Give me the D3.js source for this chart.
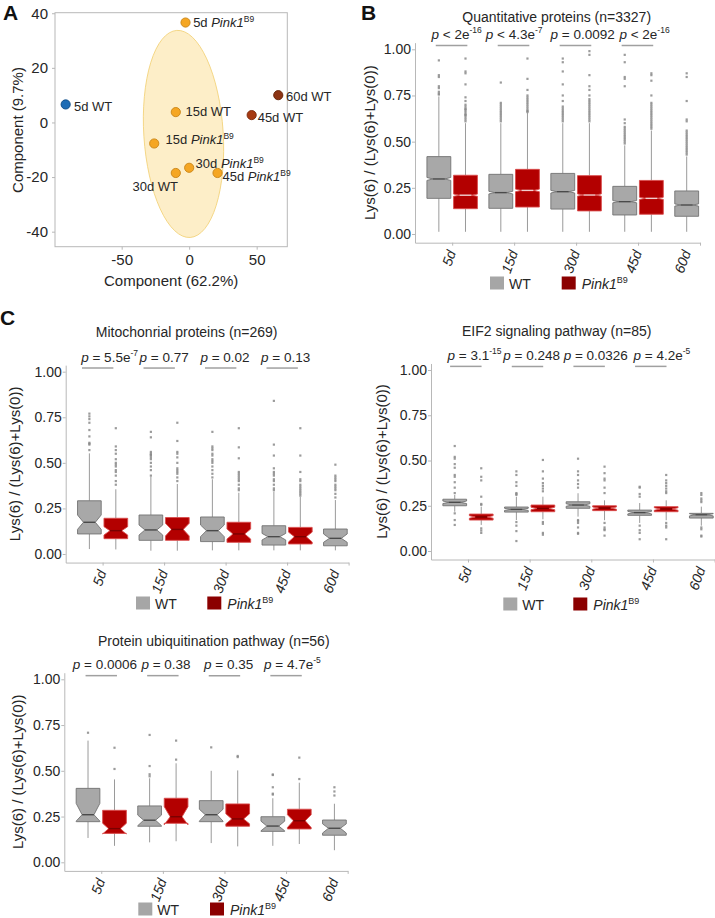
<!DOCTYPE html>
<html><head><meta charset="utf-8">
<script src="https://cdn.jsdelivr.net/npm/d3@7"></script>
<style>body{margin:0;background:#fff}svg{display:block}</style>
</head><body><svg id="c" width="715" height="918"></svg>
<script>
// ---------------- DATA ----------------
const categories = ["5d","15d","30d","45d","60d"];
const yTicks = [0, 0.25, 0.5, 0.75, 1.0];

// Panel A (PCA)
const pcaDay = ["5d","5d","15d","15d","30d","30d","45d","45d","60d"];
const pcaGeno = ["WT","Pink1","WT","Pink1","WT","Pink1","WT","Pink1","WT"];
const pcaX = [-91.5, -2.7, -9.9, -25.9, -9.9, 0.0, 46.3, 21.0, 66.0];
const pcaY = [6.6, 36.6, 3.8, -7.7, -18.5, -16.6, 2.7, -18.5, 10.0];
const pcaCluster = [0, 1, 1, 1, 1, 1, 2, 1, 3];
const pcaXTicks = [-50, 0, 50];
const pcaYTicks = [-40, -20, 0, 20, 40];
const pcaEllipse = [-4.2, -4.2, 29.4, 38.0]; // cx, cy, rx, ry (data units)

// Box rows: [whiskerLow, Q1, notchLow, median, notchHigh, Q3, whiskerHigh]
const quantWT = [
  [0.012, 0.193, 0.290, 0.298, 0.306, 0.419, 0.745],
  [0.012, 0.139, 0.217, 0.224, 0.231, 0.323, 0.600],
  [0.012, 0.135, 0.222, 0.229, 0.236, 0.328, 0.600],
  [0.012, 0.103, 0.169, 0.175, 0.181, 0.258, 0.480],
  [0.012, 0.096, 0.151, 0.157, 0.163, 0.233, 0.420]];
const quantPink = [
  [0.012, 0.137, 0.204, 0.210, 0.216, 0.318, 0.600],
  [0.012, 0.146, 0.229, 0.236, 0.243, 0.350, 0.655],
  [0.012, 0.125, 0.205, 0.211, 0.217, 0.316, 0.600],
  [0.012, 0.107, 0.187, 0.193, 0.199, 0.290, 0.560]];
const quantWTOut = [
  [0.94,0.86,0.85,0.80,0.79,0.77,0.76,0.755],
  [0.82,0.71,0.70,0.69,0.68,0.67,0.66,0.65,0.64,0.63,0.62,0.61],
  [0.95,0.93,0.88,0.81,0.75,0.72,0.69,0.68,0.67,0.66,0.65,0.64,0.63,0.62,0.61],
  [0.97,0.93,0.85,0.84,0.80,0.62,0.60,0.58,0.57,0.56,0.55,0.54,0.53,0.52,0.51,0.50,0.49],
  [0.87,0.85,0.72,0.62,0.61,0.56,0.55,0.54,0.53,0.52,0.51,0.50,0.49,0.48,0.47,0.46,0.45,0.44,0.43]];
const quantPinkOut = [
  [0.95,0.88,0.87,0.81,0.74,0.72,0.70,0.69,0.68,0.675,0.67,0.66,0.65,0.645,0.64,0.63,0.62,0.61],
  [0.95,0.84,0.78,0.75,0.74,0.73,0.72,0.71,0.70,0.69,0.68,0.67,0.665,0.66],
  [0.99,0.97,0.86,0.80,0.78,0.75,0.73,0.72,0.71,0.70,0.69,0.68,0.67,0.66,0.65,0.64,0.63,0.62,0.61],
  [0.87,0.86,0.83,0.75,0.71,0.70,0.69,0.68,0.67,0.66,0.65,0.64,0.63,0.62,0.61,0.60,0.59,0.58,0.57]];
const quantP = [["<","2e","-16"],["<","4.3e","-7"],["=","0.0092",""],["<","2e","-16"]];

const mitoWT = [
  [0.027, 0.110, 0.135, 0.174, 0.214, 0.292, 0.552],
  [0.018, 0.075, 0.104, 0.132, 0.159, 0.214, 0.424],
  [0.020, 0.068, 0.095, 0.128, 0.159, 0.203, 0.410],
  [0.020, 0.049, 0.077, 0.095, 0.113, 0.155, 0.342],
  [0.020, 0.045, 0.064, 0.086, 0.110, 0.137, 0.296]];
const mitoPink = [
  [0.025, 0.084, 0.104, 0.128, 0.150, 0.196, 0.355],
  [0.018, 0.075, 0.099, 0.135, 0.168, 0.200, 0.384],
  [0.020, 0.064, 0.082, 0.110, 0.137, 0.174, 0.336],
  [0.020, 0.055, 0.066, 0.095, 0.120, 0.146, 0.314]];
const mitoWTOut = [
  [0.77,0.755,0.74,0.72,0.68,0.645,0.61,0.605,0.60,0.57],
  [0.67,0.64,0.56,0.55,0.545,0.54,0.53,0.52,0.50,0.48,0.46,0.43],
  [0.67,0.59,0.58,0.57,0.55,0.54,0.52,0.51,0.50,0.48,0.46,0.44,0.42],
  [0.84,0.60,0.54,0.47,0.45,0.44,0.43,0.41,0.40,0.38,0.36,0.35],
  [0.49,0.43,0.42,0.41,0.40,0.38,0.37,0.36,0.35,0.33,0.31]];
const mitoPinkOut = [
  [0.69,0.59,0.57,0.55,0.52,0.50,0.49,0.48,0.46,0.45,0.43,0.40,0.38],
  [0.72,0.62,0.56,0.55,0.53,0.50,0.47,0.46,0.45,0.44,0.42,0.40],
  [0.69,0.585,0.525,0.45,0.44,0.43,0.42,0.41,0.40,0.38,0.36,0.35],
  [0.69,0.54,0.45,0.41,0.40,0.38,0.37,0.36,0.35,0.34,0.33,0.32]];
const mitoP = [["=","5.5e","-7"],["=","0.77",""],["=","0.02",""],["=","0.13",""]];

const eif2WT = [
  [0.217, 0.250, 0.262, 0.269, 0.276, 0.286, 0.310],
  [0.171, 0.215, 0.224, 0.230, 0.236, 0.243, 0.300],
  [0.190, 0.236, 0.247, 0.254, 0.261, 0.272, 0.319],
  [0.155, 0.197, 0.205, 0.212, 0.219, 0.226, 0.265],
  [0.140, 0.182, 0.194, 0.200, 0.206, 0.208, 0.245]];
const eif2Pink = [
  [0.144, 0.171, 0.181, 0.188, 0.195, 0.204, 0.245],
  [0.175, 0.217, 0.228, 0.235, 0.242, 0.254, 0.300],
  [0.170, 0.223, 0.231, 0.237, 0.243, 0.250, 0.280],
  [0.170, 0.217, 0.225, 0.232, 0.239, 0.245, 0.280]];
const eif2WTOut = [
  [0.58,0.52,0.51,0.48,0.46,0.42,0.41,0.38,0.35,0.32,0.208,0.171,0.144],
  [0.44,0.42,0.38,0.36,0.32,0.315,0.31,0.16,0.14,0.11,0.055],
  [0.51,0.44,0.42,0.39,0.37,0.35,0.171,0.165,0.155,0.13,0.10,0.095],
  [0.355,0.35,0.315,0.30,0.14,0.115,0.10,0.065],
  [0.32,0.31,0.29,0.28,0.27,0.13,0.12,0.085,0.08]];
const eif2PinkOut = [
  [0.457,0.41,0.39,0.30,0.26,0.255,0.125,0.113,0.10],
  [0.503,0.44,0.40,0.375,0.36,0.345,0.33,0.16,0.15,0.10,0.09],
  [0.466,0.43,0.40,0.39,0.35,0.32,0.155,0.13,0.12,0.115,0.085],
  [0.42,0.39,0.375,0.36,0.345,0.33,0.32,0.155,0.14,0.13,0.065]];
const eif2P = [["=","3.1","-15"],["=","0.248",""],["=","0.0326",""],["=","4.2e","-5"]];

const ubiqWT = [
  [0.133, 0.222, 0.225, 0.260, 0.322, 0.404, 0.665],
  [0.109, 0.197, 0.200, 0.230, 0.258, 0.308, 0.459],
  [0.105, 0.222, 0.225, 0.260, 0.290, 0.337, 0.500],
  [0.090, 0.169, 0.172, 0.198, 0.225, 0.249, 0.350],
  [0.066, 0.148, 0.160, 0.186, 0.210, 0.231, 0.320]];
const ubiqPink = [
  [0.090, 0.158, 0.155, 0.184, 0.213, 0.284, 0.453],
  [0.115, 0.213, 0.205, 0.249, 0.304, 0.350, 0.541],
  [0.087, 0.197, 0.210, 0.237, 0.265, 0.319, 0.502],
  [0.100, 0.182, 0.190, 0.227, 0.260, 0.290, 0.435]];
const ubiqWTOut = [[0.708],[0.696,0.526,0.481,0.47],[0.628],[0.48,0.477,0.41,0.375,0.37],[0.41,0.387,0.365]];
const ubiqPinkOut = [[0.626,0.51],[0.665,0.561],[0.581,0.575],[0.572,0.455]];
const ubiqP = [["=","0.0006",""],["=","0.38",""],["=","0.35",""],["=","4.7e","-5"]];

// ---------------- STYLE ----------------
const FONT = '"Liberation Sans", Arial, Helvetica, sans-serif';
const TXT = "#262626";
const AXC = "#b8b8b8";
const clusterFill = ["#1f6db5", "#f5a623", "#a63a12", "#8c3414"];
const clusterStroke = ["#0f4b85", "#c98515", "#7a2a0c", "#652408"];
const wtFill = "#a8a8a8", wtStroke = "#737373", wtMed = "#4a4a4a";
const pkFill = "#b30000", pkStroke = "#d94c4c";
const wtKey = "#a6a6a6", pkKey = "#8b0000";
const tickLabelDx = [-1, -1, -1, -1, -14];

const svg = d3.select("#c").attr("font-family", FONT);

// panel letters
[["A",3,20],["B",361,20],["C",0,325]].forEach(([t,x,y]) =>
  svg.append("text").attr("x",x).attr("y",y).attr("font-size",21).attr("font-weight","bold").attr("fill","#111").text(t));

// ---------------- PANEL A ----------------
(function(){
  const xA = d3.scaleLinear().domain([-99.4, 72.7]).range([55, 287.3]);
  const yA = d3.scaleLinear().domain([-45.5, 40.2]).range([246.7, 12.7]);
  const g = svg.append("g");
  const [ecx, ecy, erx, ery] = pcaEllipse;
  const cx = xA(ecx), cy = yA(ecy);
  g.append("ellipse").attr("cx",cx).attr("cy",cy)
    .attr("rx", xA(ecx+erx)-cx).attr("ry", cy-yA(ecy+ery))
    .attr("transform",`rotate(-3.7 ${cx} ${cy})`)
    .attr("fill","#fbe3a4").attr("fill-opacity",0.6).attr("stroke","#f2cf72").attr("stroke-width",0.8);
  g.append("rect").attr("x",xA.range()[0]).attr("y",yA.range()[1])
    .attr("width",xA.range()[1]-xA.range()[0]).attr("height",yA.range()[0]-yA.range()[1])
    .attr("fill","none").attr("stroke",AXC).attr("stroke-width",1);
  const ay = g.append("g").attr("transform",`translate(${xA.range()[0]},0)`)
    .call(d3.axisLeft(yA).tickValues(pcaYTicks).tickFormat(d=>String(d)).tickSize(3).tickPadding(4).tickSizeOuter(0));
  const ax = g.append("g").attr("transform",`translate(0,${yA.range()[0]})`)
    .call(d3.axisBottom(xA).tickValues(pcaXTicks).tickFormat(d=>String(d)).tickSize(3).tickPadding(5).tickSizeOuter(0));
  [ax, ay].forEach(a => { a.select(".domain").remove(); a.selectAll("line").attr("stroke",AXC);
    a.attr("font-family",FONT).attr("font-size",15); a.selectAll("text").attr("fill",TXT); });
  g.append("text").attr("x",(xA.range()[0]+xA.range()[1])/2).attr("y",286).attr("text-anchor","middle")
    .attr("font-size",15).attr("fill",TXT).text("Component (62.2%)");
  g.append("text").attr("transform",`translate(17,130) rotate(-90)`).attr("text-anchor","middle")
    .attr("dominant-baseline","central").attr("font-size",15).attr("fill",TXT).text("Component (9.7%)");
  const labOff = [[8.3,6.7],[7.6,4.7],[9.7,3.5],[11.4,0.7],[-43.3,17.8],[6.4,0.3],[6,7],[5,8.3],[7.7,6]];
  pcaX.forEach((v,i)=>{
    const px = xA(v), py = yA(pcaY[i]);
    g.append("circle").attr("cx",px).attr("cy",py).attr("r",4.6)
      .attr("fill",clusterFill[pcaCluster[i]]).attr("stroke",clusterStroke[pcaCluster[i]]).attr("stroke-width",0.9);
    const t = g.append("text").attr("x",px+labOff[i][0]).attr("y",py+labOff[i][1]).attr("font-size",13).attr("fill",TXT);
    t.append("tspan").text(pcaDay[i]+" ");
    if (pcaGeno[i]==="WT") t.append("tspan").text("WT");
    else { t.append("tspan").attr("font-style","italic").text("Pink1");
           t.append("tspan").attr("font-size",8.5).attr("dy",-5).text("B9"); }
  });
})();

// ---------------- BOX PANELS ----------------
function boxPanel(cfg){
  const g = svg.append("g");
  const span = cfg.y0 - cfg.y1;
  const ys = d3.scaleLinear().domain([-0.047, 1.036]).range([cfg.y0 + 0.047*span, cfg.y1 - 0.036*span]);
  const xs = d3.scaleLinear().domain([0.4, 5]).range([cfg.axisX, cfg.axisX + 4.6*cfg.unit]);
  const bw = xs(0.385) - xs(0);
  const ind = bw*0.25;

  // axes
  const ay = g.append("g").attr("transform",`translate(${cfg.axisX},0)`)
    .call(d3.axisLeft(ys).tickValues(yTicks).tickFormat(d3.format(".2f")).tickSize(3).tickPadding(1).tickSizeOuter(0));
  const ax = g.append("g").attr("transform",`translate(0,${ys(-0.047)})`)
    .call(d3.axisBottom(xs).tickValues([1,2,3,4,5]).tickFormat(d=>categories[d-1]).tickSize(3).tickSizeOuter(0));
  [ax, ay].forEach(a => { a.select(".domain").attr("stroke",AXC); a.selectAll("line").attr("stroke",AXC);
    a.attr("font-family",FONT).attr("font-size",14); a.selectAll("text").attr("fill",TXT); });
  ax.selectAll("text").attr("text-anchor","end").attr("x",0).attr("y",0).attr("dy","0.35em")
    .attr("font-style","italic").attr("transform",(d,i)=>`translate(${tickLabelDx[i]},8) rotate(-70)`);

  // y title
  g.append("text").attr("transform",`translate(${cfg.ytx},${(ys.range()[0]+ys.range()[1])/2}) rotate(-90)`)
    .attr("text-anchor","middle").attr("dominant-baseline","central").attr("font-size",15).attr("fill",TXT)
    .text("Lys(6) / (Lys(6)+Lys(0))");
  // title
  g.append("text").attr("x",cfg.titleX).attr("y",cfg.titleY).attr("text-anchor","middle")
    .attr("font-size",14).attr("fill",TXT).text(cfg.title);

  function drawBox(xc, row, fill, stroke, med, outs){
    const [lo,q1,nlo,md,nhi,q3,hi] = row;
    const x0 = xc - bw/2, x1 = xc + bw/2;
    g.append("line").attr("x1",xc).attr("x2",xc).attr("y1",ys(hi)).attr("y2",ys(q3)).attr("stroke","#9a9a9a").attr("stroke-width",1);
    g.append("line").attr("x1",xc).attr("x2",xc).attr("y1",ys(q1)).attr("y2",ys(lo)).attr("stroke","#9a9a9a").attr("stroke-width",1);
    outs.forEach(v => g.append("rect").attr("x",xc-1.1).attr("y",ys(v)-1.1).attr("width",2.2).attr("height",2.2)
      .attr("fill","#8a8a8a").attr("fill-opacity",0.85));
    const pts = [[x0,ys(q3)],[x0,ys(nhi)],[x0+ind,ys(md)],[x0,ys(nlo)],[x0,ys(q1)],
                 [x1,ys(q1)],[x1,ys(nlo)],[x1-ind,ys(md)],[x1,ys(nhi)],[x1,ys(q3)]];
    g.append("polygon").attr("points",pts.map(p=>p.join(",")).join(" "))
      .attr("fill",fill).attr("stroke",stroke).attr("stroke-width",0.9).attr("stroke-linejoin","miter");
    g.append("line").attr("x1",x0+ind).attr("x2",x1-ind).attr("y1",ys(md)).attr("y2",ys(md))
      .attr("stroke",med).attr("stroke-width",1.4);
  }
  cfg.wt.forEach((row,i)=> drawBox(xs(i+1-0.215), row, wtFill, wtStroke, wtMed, cfg.wtOut[i]));
  cfg.pk.forEach((row,i)=> drawBox(xs(i+1+0.215), row, pkFill, pkStroke, cfg.pkMed, cfg.pkOut[i]));

  // p-value annotations
  cfg.pv.forEach((p,i)=>{
    const c = i+1+cfg.shift;
    g.append("line").attr("x1",xs(c-0.255)).attr("x2",xs(c+0.255)).attr("y1",ys(1.02)).attr("y2",ys(1.02))
      .attr("stroke","#a0a0a0").attr("stroke-width",1.5);
    const t = g.append("text").attr("x",xs(i+1)+cfg.pdx[i]).attr("y",ys(1.02)-6.5).attr("text-anchor","middle")
      .attr("font-size",13.5).attr("fill",TXT);
    t.append("tspan").attr("font-style","italic").text("p");
    t.append("tspan").text(" "+p[0]+" "+p[1]);
    if (p[2]) t.append("tspan").attr("font-size",8.5).attr("dy",-6).text(p[2]);
  });

  // legend
  const L = cfg.leg;
  g.append("rect").attr("x",L[0]).attr("y",L[1]).attr("width",14).attr("height",13).attr("fill",wtKey);
  g.append("text").attr("x",L[0]+19).attr("y",L[1]+12).attr("font-size",14).attr("fill",TXT).text("WT");
  g.append("rect").attr("x",L[2]).attr("y",L[1]).attr("width",14).attr("height",13).attr("fill",pkKey);
  const lt = g.append("text").attr("x",L[2]+20).attr("y",L[1]+12).attr("font-size",14).attr("fill",TXT);
  lt.append("tspan").attr("font-style","italic").text("Pink1");
  lt.append("tspan").attr("font-size",9).attr("dy",-6).text("B9");
}

boxPanel({axisX:415, y0:234, y1:49.3, unit:61.96, title:"Quantitative proteins (n=3327)", titleX:556.7, titleY:21.5,
  ytx:369, wt:quantWT, pk:quantPink, wtOut:quantWTOut, pkOut:quantPinkOut, pv:quantP, shift:-0.01,
  pdx:[4.5,0,6.5,6.5], leg:[490,276.5,561.7], pkMed:"#f1cfcf"});
boxPanel({axisX:65.7, y0:554, y1:371.7, unit:61.5, title:"Mitochonrial proteins (n=269)", titleX:186.7, titleY:336.5,
  ytx:14.7, wt:mitoWT, pk:mitoPink, wtOut:mitoWTOut, pkOut:mitoPinkOut, pv:mitoP, shift:-0.08,
  pdx:[7,0,-0.6,-1.4], leg:[136,596.5,207.3], pkMed:"#7a0000"});
boxPanel({axisX:431, y0:551, y1:370, unit:61.65, title:"EIF2 signaling pathway (n=85)", titleX:556.7, titleY:335.5,
  ytx:381, wt:eif2WT, pk:eif2Pink, wtOut:eif2WTOut, pkOut:eif2PinkOut, pv:eif2P, shift:-0.035,
  pdx:[6.5,2,4.5,9], leg:[503.3,597.5,573.3], pkMed:"#7a0000"});
boxPanel({axisX:64.3, y0:862.3, y1:679.3, unit:61.6, title:"Protein ubiquitination pathway (n=56)", titleX:213.8, titleY:645.5,
  ytx:17.5, wt:ubiqWT, pk:ubiqPink, wtOut:ubiqWTOut, pkOut:ubiqPinkOut, pv:ubiqP, shift:0,
  pdx:[3.7,3.2,4.2,6.3], leg:[138.3,902.5,210], pkMed:"#7a0000"});
</script>
</body></html>
